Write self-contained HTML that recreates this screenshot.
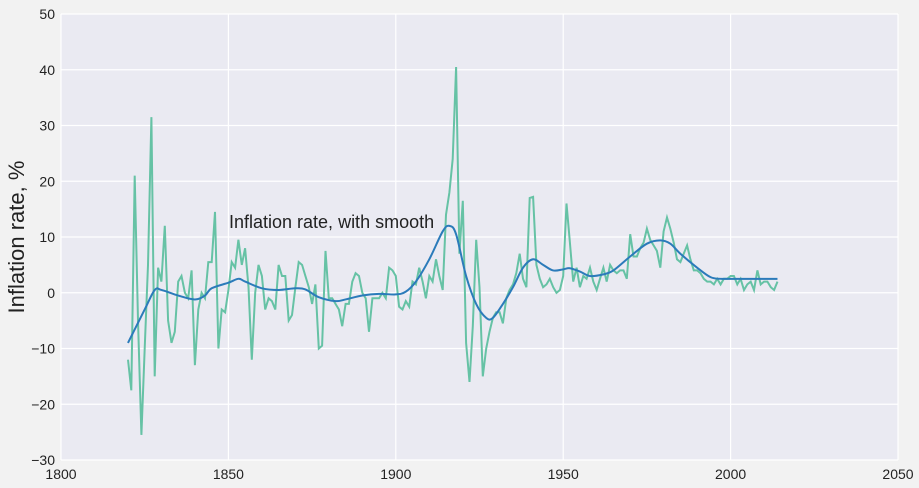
<!DOCTYPE html>
<html><head><meta charset="utf-8"><style>
body{margin:0;background:#f2f2f2;font-family:"Liberation Sans",sans-serif;}
svg{display:block}
</style></head><body>
<svg id="chart" width="919" height="488">
<rect x="0" y="0" width="919" height="488" fill="#f2f2f2"/>
<rect x="61" y="14" width="837" height="446" fill="#eaeaf2"/>
<g id="grid"></g>
<g id="ticks" font-size="14" fill="#222"></g>
<text x="0" y="0" transform="translate(24,237) rotate(-90)" text-anchor="middle" font-size="22" fill="#222">Inflation rate, %</text>
<path id="raw" fill="none" stroke="#66c2a5" stroke-width="2"/>
<path id="smooth" fill="none" stroke="#2b7bba" stroke-width="2"/>
<text x="229" y="228" font-size="18" fill="#222">Inflation rate, with smooth</text>
</svg>
<script>
const xTicks=[1800,1850,1900,1950,2000,2050];
const yTicks=[-30,-20,-10,0,10,20,30,40,50];
const startYear=1820;
const rawValues=[-12,-17.5,21,-5,-25.5,-10,5,31.5,-15,4.5,2,12,-5,-9,-7,2,3,0,-1,4,-13,-3,0,-1,5.5,5.5,14.5,-10,-3,-3.5,0.5,5.5,4.5,9.5,5,8,1,-12,0,5,3,-3,-1,-1.5,-3,5,3,3,-5,-4,1,5.5,5,3,1,-2,1.5,-10,-9.5,7.5,-1,-1,-2,-3,-6,-2,-2,2,3.5,3,0,-1,-7,-1,-1,-1,0,-1,4.5,4,3,-2.5,-3,-1.5,-2.5,2,1.5,4.5,2,-1,3,2,6,3,0.5,14,18,24,40.5,7,16.5,-9,-16,-6,9.5,1,-15,-10,-7,-4.5,-3.5,-3.5,-5.5,-1,0.5,1.5,3.5,7,2.5,1,17,17.2,5,2.5,1,1.5,2.5,1,0,0.5,3,16,9,2,4.5,1,3,2.5,4.5,2,0.5,2.5,4.5,2,5,4,3.5,4,4,2.5,10.5,6.5,6.5,8,9,11.5,9.5,8.5,7.5,4.5,11,13.5,11.5,9,6,5.5,7,8.5,6,4,4,3.5,2.5,2,2,1.5,2.5,1.5,2.5,2.5,3,3,1.5,2.5,0.5,1.5,2,0.5,4,1.5,2,2,1,0.5,2];
const smoothYears=[1820,1825,1828,1830,1835,1840,1843,1845,1850,1853,1855,1860,1865,1870,1873,1877,1882,1885,1890,1895,1900,1903,1906,1910,1914,1916,1918,1921,1924,1927,1929,1932,1935,1938,1941,1944,1947,1950,1952,1955,1958,1962,1965,1970,1975,1979,1982,1985,1990,1994,1997,2000,2014];
const smoothValues=[-9,-3,0.5,0.5,-0.5,-1.2,-0.5,0.8,1.8,2.5,2,0.8,0.5,0.8,0.6,-0.8,-1.5,-1.2,-0.5,-0.2,-0.3,0.2,2,6,11,12,10.5,3,-2,-4.5,-4.5,-2,1,4.5,6,5,4,4.2,4.4,3.8,3,3.3,4,6.5,8.8,9.4,8.8,7,4.5,2.8,2.5,2.5,2.5];
const X=v=>61+(v-1800)/250*837;
const Y=v=>14+(50-v)/80*446;
const NS="http://www.w3.org/2000/svg";
const grid=document.getElementById('grid'),ticks=document.getElementById('ticks');
xTicks.forEach(t=>{
 const l=document.createElementNS(NS,'line');
 l.setAttribute('x1',X(t));l.setAttribute('x2',X(t));l.setAttribute('y1',14);l.setAttribute('y2',460);
 l.setAttribute('stroke','#fff');l.setAttribute('stroke-width','1.2');
 
 
 grid.appendChild(l);
 const tx=document.createElementNS(NS,'text');
 tx.setAttribute('x',X(t));tx.setAttribute('y',479);tx.setAttribute('text-anchor','middle');tx.textContent=t;
 
 
 ticks.appendChild(tx);
});
yTicks.forEach(t=>{
 const l=document.createElementNS(NS,'line');
 l.setAttribute('x1',61);l.setAttribute('x2',898);l.setAttribute('y1',Y(t));l.setAttribute('y2',Y(t));
 l.setAttribute('stroke','#fff');l.setAttribute('stroke-width','1.2');
 
 
 grid.appendChild(l);
 const tx=document.createElementNS(NS,'text');
 tx.setAttribute('x',55);tx.setAttribute('y',Y(t)+5);tx.setAttribute('text-anchor','end');tx.textContent=String(t).replace('-','\u2212');
 
 
 ticks.appendChild(tx);
});
document.getElementById('raw').setAttribute('d',rawValues.map((v,i)=>(i?'L':'M')+X(startYear+i).toFixed(1)+','+Y(v).toFixed(1)).join(''));
const pts=smoothYears.map((y,i)=>[X(y),Y(smoothValues[i])]);
let d='M'+pts[0][0]+','+pts[0][1];
for(let i=0;i<pts.length-1;i++){
 const p0=pts[Math.max(0,i-1)],p1=pts[i],p2=pts[i+1],p3=pts[Math.min(pts.length-1,i+2)];
 const c1=[p1[0]+(p2[0]-p0[0])/6,p1[1]+(p2[1]-p0[1])/6];
 const c2=[p2[0]-(p3[0]-p1[0])/6,p2[1]-(p3[1]-p1[1])/6];
 d+='C'+c1.join(',')+' '+c2.join(',')+' '+p2.join(',');
}
document.getElementById('smooth').setAttribute('d',d);
</script>
</body></html>
